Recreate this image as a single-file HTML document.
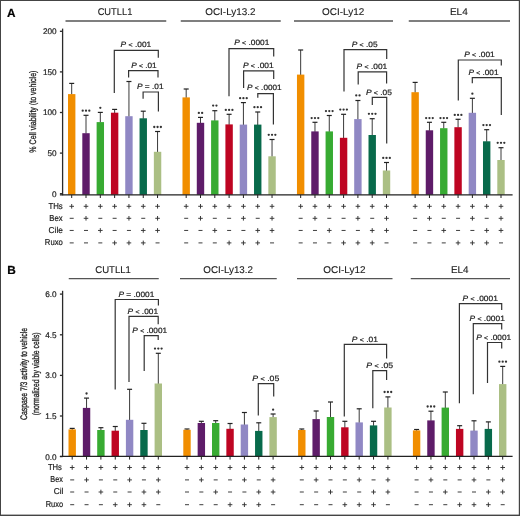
<!DOCTYPE html>
<html><head><meta charset="utf-8"><style>
html,body{margin:0;padding:0;background:#fff;}
svg{display:block;}
#w{width:520px;height:516px;overflow:hidden;will-change:transform;}
text{font-family:"Liberation Sans",sans-serif;fill:#1a1a1a;text-rendering:geometricPrecision;}
.ax{stroke:#2a2a2a;stroke-width:1.3;}
.ul{stroke:#555;stroke-width:1.3;}
.tk{stroke:#222;stroke-width:1;}
.bl{stroke:#222;stroke-width:1.15;}
.eb{stroke:#3a3a3a;stroke-width:1;}
.ec{stroke:#222;stroke-width:1.2;}
.br{stroke:#333;stroke-width:1.2;fill:none;}
.sg{stroke:#333;stroke-width:0.95;fill:none;}
.tl{font-size:8.2px;stroke:#222;stroke-width:0.2px;}
.tt{stroke:#222;stroke-width:0.12px;}
.pt{stroke:#222;stroke-width:0.2px;}
.rl{stroke:#222;stroke-width:0.2px;}
.pl{font-size:11.8px;font-weight:bold;stroke:#000;stroke-width:0.2px;fill:#000;}
.yl{stroke:#222;stroke-width:0.3px;}
</style></head><body>
<div id="w"><svg width="520" height="516" viewBox="0 0 520 516">
<rect x="0" y="0" width="520" height="516" fill="#fff"/>
<line x1="59.9" y1="31.3" x2="62.7" y2="31.3" class="ax"/>
<text x="56.6" y="34.2" class="tl" text-anchor="end">200</text>
<line x1="59.9" y1="71.9" x2="62.7" y2="71.9" class="ax"/>
<text x="56.6" y="74.8" class="tl" text-anchor="end">150</text>
<line x1="59.9" y1="112.5" x2="62.7" y2="112.5" class="ax"/>
<text x="56.6" y="115.4" class="tl" text-anchor="end">100</text>
<line x1="59.9" y1="153.1" x2="62.7" y2="153.1" class="ax"/>
<text x="56.6" y="156" class="tl" text-anchor="end">50</text>
<line x1="59.9" y1="193.7" x2="62.7" y2="193.7" class="ax"/>
<text x="56.6" y="196.6" class="tl" text-anchor="end">0</text>
<text x="97.63" y="15.3" class="tt" font-size="9.8" textLength="34.71" lengthAdjust="spacingAndGlyphs">CUTLL1</text>
<line x1="65.5" y1="21" x2="166.25" y2="21" class="ul"/>
<text x="205.29" y="15.3" class="tt" font-size="9.8" textLength="50.21" lengthAdjust="spacingAndGlyphs">OCI-Ly13.2</text>
<line x1="180.75" y1="21" x2="280.75" y2="21" class="ul"/>
<text x="322.03" y="15.3" class="tt" font-size="9.8" textLength="42.22" lengthAdjust="spacingAndGlyphs">OCI-Ly12</text>
<line x1="294" y1="21" x2="393" y2="21" class="ul"/>
<text x="449.93" y="15.3" class="tt" font-size="9.8" textLength="17.87" lengthAdjust="spacingAndGlyphs">EL4</text>
<line x1="408.75" y1="21" x2="510" y2="21" class="ul"/>
<line x1="71.7" y1="83.4" x2="71.7" y2="94.6" class="eb"/>
<line x1="69.2" y1="83.4" x2="74.2" y2="83.4" class="ec"/>
<rect x="68" y="94.1" width="7.4" height="100.7" fill="#F18E00"/>
<line x1="71.7" y1="194.8" x2="71.7" y2="198" class="tk"/>
<path d="M69.4 206.3H74M71.7 204V208.6" class="sg"/>
<path d="M69.7 218.3H73.7" class="sg"/>
<path d="M69.7 230.45H73.7" class="sg"/>
<path d="M69.7 242.9H73.7" class="sg"/>
<line x1="86.01" y1="115.3" x2="86.01" y2="133.7" class="eb"/>
<line x1="83.51" y1="115.3" x2="88.51" y2="115.3" class="ec"/>
<rect x="82.31" y="133.2" width="7.4" height="61.6" fill="#5E1C69"/>
<line x1="86.01" y1="194.8" x2="86.01" y2="198" class="tk"/>
<circle cx="82.71" cy="110.7" r="1.15" fill="#333"/>
<circle cx="86.01" cy="110.7" r="1.15" fill="#333"/>
<circle cx="89.31" cy="110.7" r="1.15" fill="#333"/>
<path d="M83.71 206.3H88.31M86.01 204V208.6" class="sg"/>
<path d="M83.71 218.3H88.31M86.01 216V220.6" class="sg"/>
<path d="M84.01 230.45H88.01" class="sg"/>
<path d="M84.01 242.9H88.01" class="sg"/>
<line x1="100.32" y1="112.4" x2="100.32" y2="122.6" class="eb"/>
<line x1="97.82" y1="112.4" x2="102.82" y2="112.4" class="ec"/>
<rect x="96.62" y="122.1" width="7.4" height="72.7" fill="#38AB32"/>
<line x1="100.32" y1="194.8" x2="100.32" y2="198" class="tk"/>
<circle cx="100.32" cy="107.8" r="1.15" fill="#333"/>
<path d="M98.02 206.3H102.62M100.32 204V208.6" class="sg"/>
<path d="M98.32 218.3H102.32" class="sg"/>
<path d="M98.02 230.45H102.62M100.32 228.15V232.75" class="sg"/>
<path d="M98.32 242.9H102.32" class="sg"/>
<line x1="114.63" y1="109.4" x2="114.63" y2="113.2" class="eb"/>
<line x1="112.13" y1="109.4" x2="117.13" y2="109.4" class="ec"/>
<rect x="110.93" y="112.7" width="7.4" height="82.1" fill="#BE0522"/>
<line x1="114.63" y1="194.8" x2="114.63" y2="198" class="tk"/>
<path d="M112.33 206.3H116.93M114.63 204V208.6" class="sg"/>
<path d="M112.63 218.3H116.63" class="sg"/>
<path d="M112.63 230.45H116.63" class="sg"/>
<path d="M112.33 242.9H116.93M114.63 240.6V245.2" class="sg"/>
<line x1="128.94" y1="81.5" x2="128.94" y2="116.7" class="eb"/>
<line x1="126.44" y1="81.5" x2="131.44" y2="81.5" class="ec"/>
<rect x="125.24" y="116.2" width="7.4" height="78.6" fill="#9088C4"/>
<line x1="128.94" y1="194.8" x2="128.94" y2="198" class="tk"/>
<path d="M126.64 206.3H131.24M128.94 204V208.6" class="sg"/>
<path d="M126.64 218.3H131.24M128.94 216V220.6" class="sg"/>
<path d="M126.94 230.45H130.94" class="sg"/>
<path d="M126.64 242.9H131.24M128.94 240.6V245.2" class="sg"/>
<line x1="143.25" y1="111.2" x2="143.25" y2="118.8" class="eb"/>
<line x1="140.75" y1="111.2" x2="145.75" y2="111.2" class="ec"/>
<rect x="139.55" y="118.3" width="7.4" height="76.5" fill="#086A4B"/>
<line x1="143.25" y1="194.8" x2="143.25" y2="198" class="tk"/>
<path d="M140.95 206.3H145.55M143.25 204V208.6" class="sg"/>
<path d="M141.25 218.3H145.25" class="sg"/>
<path d="M140.95 230.45H145.55M143.25 228.15V232.75" class="sg"/>
<path d="M140.95 242.9H145.55M143.25 240.6V245.2" class="sg"/>
<line x1="157.56" y1="131.5" x2="157.56" y2="152.3" class="eb"/>
<line x1="155.06" y1="131.5" x2="160.06" y2="131.5" class="ec"/>
<rect x="153.86" y="151.8" width="7.4" height="43" fill="#ABBF84"/>
<line x1="157.56" y1="194.8" x2="157.56" y2="198" class="tk"/>
<circle cx="154.26" cy="127" r="1.15" fill="#333"/>
<circle cx="157.56" cy="127" r="1.15" fill="#333"/>
<circle cx="160.86" cy="127" r="1.15" fill="#333"/>
<path d="M155.26 206.3H159.86M157.56 204V208.6" class="sg"/>
<path d="M155.26 218.3H159.86M157.56 216V220.6" class="sg"/>
<path d="M155.26 230.45H159.86M157.56 228.15V232.75" class="sg"/>
<path d="M155.56 242.9H159.56" class="sg"/>
<path d="M114.3 93V50.4H158.3V57.8" class="br"/>
<text x="120.63" y="47.1" class="pt" font-size="7.7" textLength="30.67" lengthAdjust="spacingAndGlyphs"><tspan font-style="italic">P</tspan> <tspan font-size="6.4">&lt;</tspan> .001</text>
<path d="M128.6 77.5V70.7H158V77.5" class="br"/>
<text x="131.24" y="67.6" class="pt" font-size="7.7" textLength="25.44" lengthAdjust="spacingAndGlyphs"><tspan font-style="italic">P</tspan> <tspan font-size="6.4">&lt;</tspan> .01</text>
<path d="M143.1 98.7V92H158.4V111.6" class="br"/>
<text x="137.02" y="88.6" class="pt" font-size="7.7" textLength="26.48" lengthAdjust="spacingAndGlyphs"><tspan font-style="italic">P</tspan> = .01</text>
<line x1="186.18" y1="89" x2="186.18" y2="97.9" class="eb"/>
<line x1="183.68" y1="89" x2="188.68" y2="89" class="ec"/>
<rect x="182.48" y="97.4" width="7.4" height="97.4" fill="#F18E00"/>
<line x1="186.18" y1="194.8" x2="186.18" y2="198" class="tk"/>
<path d="M183.88 206.3H188.48M186.18 204V208.6" class="sg"/>
<path d="M184.18 218.3H188.18" class="sg"/>
<path d="M184.18 230.45H188.18" class="sg"/>
<path d="M184.18 242.9H188.18" class="sg"/>
<line x1="200.49" y1="117.4" x2="200.49" y2="123.3" class="eb"/>
<line x1="197.99" y1="117.4" x2="202.99" y2="117.4" class="ec"/>
<rect x="196.79" y="122.8" width="7.4" height="72" fill="#5E1C69"/>
<line x1="200.49" y1="194.8" x2="200.49" y2="198" class="tk"/>
<circle cx="198.84" cy="112.9" r="1.15" fill="#333"/>
<circle cx="202.14" cy="112.9" r="1.15" fill="#333"/>
<path d="M198.19 206.3H202.79M200.49 204V208.6" class="sg"/>
<path d="M198.19 218.3H202.79M200.49 216V220.6" class="sg"/>
<path d="M198.49 230.45H202.49" class="sg"/>
<path d="M198.49 242.9H202.49" class="sg"/>
<line x1="214.8" y1="110.7" x2="214.8" y2="120.9" class="eb"/>
<line x1="212.3" y1="110.7" x2="217.3" y2="110.7" class="ec"/>
<rect x="211.1" y="120.4" width="7.4" height="74.4" fill="#38AB32"/>
<line x1="214.8" y1="194.8" x2="214.8" y2="198" class="tk"/>
<circle cx="213.15" cy="105.6" r="1.15" fill="#333"/>
<circle cx="216.45" cy="105.6" r="1.15" fill="#333"/>
<path d="M212.5 206.3H217.1M214.8 204V208.6" class="sg"/>
<path d="M212.8 218.3H216.8" class="sg"/>
<path d="M212.5 230.45H217.1M214.8 228.15V232.75" class="sg"/>
<path d="M212.8 242.9H216.8" class="sg"/>
<line x1="229.11" y1="114.3" x2="229.11" y2="124.9" class="eb"/>
<line x1="226.61" y1="114.3" x2="231.61" y2="114.3" class="ec"/>
<rect x="225.41" y="124.4" width="7.4" height="70.4" fill="#BE0522"/>
<line x1="229.11" y1="194.8" x2="229.11" y2="198" class="tk"/>
<circle cx="225.81" cy="109.9" r="1.15" fill="#333"/>
<circle cx="229.11" cy="109.9" r="1.15" fill="#333"/>
<circle cx="232.41" cy="109.9" r="1.15" fill="#333"/>
<path d="M226.81 206.3H231.41M229.11 204V208.6" class="sg"/>
<path d="M227.11 218.3H231.11" class="sg"/>
<path d="M227.11 230.45H231.11" class="sg"/>
<path d="M226.81 242.9H231.41M229.11 240.6V245.2" class="sg"/>
<line x1="243.42" y1="102.6" x2="243.42" y2="125.1" class="eb"/>
<line x1="240.92" y1="102.6" x2="245.92" y2="102.6" class="ec"/>
<rect x="239.72" y="124.6" width="7.4" height="70.2" fill="#9088C4"/>
<line x1="243.42" y1="194.8" x2="243.42" y2="198" class="tk"/>
<circle cx="240.12" cy="98.2" r="1.15" fill="#333"/>
<circle cx="243.42" cy="98.2" r="1.15" fill="#333"/>
<circle cx="246.72" cy="98.2" r="1.15" fill="#333"/>
<path d="M241.12 206.3H245.72M243.42 204V208.6" class="sg"/>
<path d="M241.12 218.3H245.72M243.42 216V220.6" class="sg"/>
<path d="M241.42 230.45H245.42" class="sg"/>
<path d="M241.12 242.9H245.72M243.42 240.6V245.2" class="sg"/>
<line x1="257.73" y1="112" x2="257.73" y2="125.1" class="eb"/>
<line x1="255.23" y1="112" x2="260.23" y2="112" class="ec"/>
<rect x="254.03" y="124.6" width="7.4" height="70.2" fill="#086A4B"/>
<line x1="257.73" y1="194.8" x2="257.73" y2="198" class="tk"/>
<circle cx="254.43" cy="107.2" r="1.15" fill="#333"/>
<circle cx="257.73" cy="107.2" r="1.15" fill="#333"/>
<circle cx="261.03" cy="107.2" r="1.15" fill="#333"/>
<path d="M255.43 206.3H260.03M257.73 204V208.6" class="sg"/>
<path d="M255.73 218.3H259.73" class="sg"/>
<path d="M255.43 230.45H260.03M257.73 228.15V232.75" class="sg"/>
<path d="M255.43 242.9H260.03M257.73 240.6V245.2" class="sg"/>
<line x1="272.04" y1="139.5" x2="272.04" y2="156.8" class="eb"/>
<line x1="269.54" y1="139.5" x2="274.54" y2="139.5" class="ec"/>
<rect x="268.34" y="156.3" width="7.4" height="38.5" fill="#ABBF84"/>
<line x1="272.04" y1="194.8" x2="272.04" y2="198" class="tk"/>
<circle cx="268.74" cy="134.8" r="1.15" fill="#333"/>
<circle cx="272.04" cy="134.8" r="1.15" fill="#333"/>
<circle cx="275.34" cy="134.8" r="1.15" fill="#333"/>
<path d="M269.74 206.3H274.34M272.04 204V208.6" class="sg"/>
<path d="M269.74 218.3H274.34M272.04 216V220.6" class="sg"/>
<path d="M269.74 230.45H274.34M272.04 228.15V232.75" class="sg"/>
<path d="M270.04 242.9H274.04" class="sg"/>
<path d="M229 96.2V48.6H273.7V56.6" class="br"/>
<text x="234.23" y="45.4" class="pt" font-size="7.7" textLength="35.06" lengthAdjust="spacingAndGlyphs"><tspan font-style="italic">P</tspan> <tspan font-size="6.4">&lt;</tspan> .0001</text>
<path d="M243.6 88V70.8H273.7V78.9" class="br"/>
<text x="242.92" y="67.7" class="pt" font-size="7.7" textLength="30.77" lengthAdjust="spacingAndGlyphs"><tspan font-style="italic">P</tspan> <tspan font-size="6.4">&lt;</tspan> .001</text>
<path d="M257.8 97.8V93.6H273.4V124.4" class="br"/>
<text x="247.14" y="90.3" class="pt" font-size="7.7" textLength="34.44" lengthAdjust="spacingAndGlyphs"><tspan font-style="italic">P</tspan> <tspan font-size="6.4">&lt;</tspan> .0001</text>
<line x1="300.66" y1="50" x2="300.66" y2="75.1" class="eb"/>
<line x1="298.16" y1="50" x2="303.16" y2="50" class="ec"/>
<rect x="296.96" y="74.6" width="7.4" height="120.2" fill="#F18E00"/>
<line x1="300.66" y1="194.8" x2="300.66" y2="198" class="tk"/>
<path d="M298.36 206.3H302.96M300.66 204V208.6" class="sg"/>
<path d="M298.66 218.3H302.66" class="sg"/>
<path d="M298.66 230.45H302.66" class="sg"/>
<path d="M298.66 242.9H302.66" class="sg"/>
<line x1="314.97" y1="122.3" x2="314.97" y2="131.9" class="eb"/>
<line x1="312.47" y1="122.3" x2="317.47" y2="122.3" class="ec"/>
<rect x="311.27" y="131.4" width="7.4" height="63.4" fill="#5E1C69"/>
<line x1="314.97" y1="194.8" x2="314.97" y2="198" class="tk"/>
<circle cx="311.67" cy="118.1" r="1.15" fill="#333"/>
<circle cx="314.97" cy="118.1" r="1.15" fill="#333"/>
<circle cx="318.27" cy="118.1" r="1.15" fill="#333"/>
<path d="M312.67 206.3H317.27M314.97 204V208.6" class="sg"/>
<path d="M312.67 218.3H317.27M314.97 216V220.6" class="sg"/>
<path d="M312.97 230.45H316.97" class="sg"/>
<path d="M312.97 242.9H316.97" class="sg"/>
<line x1="329.28" y1="115.5" x2="329.28" y2="131.9" class="eb"/>
<line x1="326.78" y1="115.5" x2="331.78" y2="115.5" class="ec"/>
<rect x="325.58" y="131.4" width="7.4" height="63.4" fill="#38AB32"/>
<line x1="329.28" y1="194.8" x2="329.28" y2="198" class="tk"/>
<circle cx="325.98" cy="111.1" r="1.15" fill="#333"/>
<circle cx="329.28" cy="111.1" r="1.15" fill="#333"/>
<circle cx="332.58" cy="111.1" r="1.15" fill="#333"/>
<path d="M326.98 206.3H331.58M329.28 204V208.6" class="sg"/>
<path d="M327.28 218.3H331.28" class="sg"/>
<path d="M326.98 230.45H331.58M329.28 228.15V232.75" class="sg"/>
<path d="M327.28 242.9H331.28" class="sg"/>
<line x1="343.59" y1="114.3" x2="343.59" y2="138.3" class="eb"/>
<line x1="341.09" y1="114.3" x2="346.09" y2="114.3" class="ec"/>
<rect x="339.89" y="137.8" width="7.4" height="57" fill="#BE0522"/>
<line x1="343.59" y1="194.8" x2="343.59" y2="198" class="tk"/>
<circle cx="340.29" cy="109.6" r="1.15" fill="#333"/>
<circle cx="343.59" cy="109.6" r="1.15" fill="#333"/>
<circle cx="346.89" cy="109.6" r="1.15" fill="#333"/>
<path d="M341.29 206.3H345.89M343.59 204V208.6" class="sg"/>
<path d="M341.59 218.3H345.59" class="sg"/>
<path d="M341.59 230.45H345.59" class="sg"/>
<path d="M341.29 242.9H345.89M343.59 240.6V245.2" class="sg"/>
<line x1="357.9" y1="100.5" x2="357.9" y2="119.6" class="eb"/>
<line x1="355.4" y1="100.5" x2="360.4" y2="100.5" class="ec"/>
<rect x="354.2" y="119.1" width="7.4" height="75.7" fill="#9088C4"/>
<line x1="357.9" y1="194.8" x2="357.9" y2="198" class="tk"/>
<circle cx="356.25" cy="95.4" r="1.15" fill="#333"/>
<circle cx="359.55" cy="95.4" r="1.15" fill="#333"/>
<path d="M355.6 206.3H360.2M357.9 204V208.6" class="sg"/>
<path d="M355.6 218.3H360.2M357.9 216V220.6" class="sg"/>
<path d="M355.9 230.45H359.9" class="sg"/>
<path d="M355.6 242.9H360.2M357.9 240.6V245.2" class="sg"/>
<line x1="372.21" y1="118.7" x2="372.21" y2="135.5" class="eb"/>
<line x1="369.71" y1="118.7" x2="374.71" y2="118.7" class="ec"/>
<rect x="368.51" y="135" width="7.4" height="59.8" fill="#086A4B"/>
<line x1="372.21" y1="194.8" x2="372.21" y2="198" class="tk"/>
<circle cx="368.91" cy="113.8" r="1.15" fill="#333"/>
<circle cx="372.21" cy="113.8" r="1.15" fill="#333"/>
<circle cx="375.51" cy="113.8" r="1.15" fill="#333"/>
<path d="M369.91 206.3H374.51M372.21 204V208.6" class="sg"/>
<path d="M370.21 218.3H374.21" class="sg"/>
<path d="M369.91 230.45H374.51M372.21 228.15V232.75" class="sg"/>
<path d="M369.91 242.9H374.51M372.21 240.6V245.2" class="sg"/>
<line x1="386.52" y1="162.5" x2="386.52" y2="171" class="eb"/>
<line x1="384.02" y1="162.5" x2="389.02" y2="162.5" class="ec"/>
<rect x="382.82" y="170.5" width="7.4" height="24.3" fill="#ABBF84"/>
<line x1="386.52" y1="194.8" x2="386.52" y2="198" class="tk"/>
<circle cx="383.22" cy="157.9" r="1.15" fill="#333"/>
<circle cx="386.52" cy="157.9" r="1.15" fill="#333"/>
<circle cx="389.82" cy="157.9" r="1.15" fill="#333"/>
<path d="M384.22 206.3H388.82M386.52 204V208.6" class="sg"/>
<path d="M384.22 218.3H388.82M386.52 216V220.6" class="sg"/>
<path d="M384.22 230.45H388.82M386.52 228.15V232.75" class="sg"/>
<path d="M384.52 242.9H388.52" class="sg"/>
<path d="M344 91.6V49.6H386.7V59.1" class="br"/>
<text x="351.73" y="46.7" class="pt" font-size="7.7" textLength="25.8" lengthAdjust="spacingAndGlyphs"><tspan font-style="italic">P</tspan> <tspan font-size="6.4">&lt;</tspan> .05</text>
<path d="M358.2 84.5V71.8H386.6V83.5" class="br"/>
<text x="356.63" y="68.5" class="pt" font-size="7.7" textLength="30.67" lengthAdjust="spacingAndGlyphs"><tspan font-style="italic">P</tspan> <tspan font-size="6.4">&lt;</tspan> .001</text>
<path d="M372.3 105V97.3H386.7V143.5" class="br"/>
<text x="365.93" y="94.8" class="pt" font-size="7.7" textLength="25.9" lengthAdjust="spacingAndGlyphs"><tspan font-style="italic">P</tspan> <tspan font-size="6.4">&lt;</tspan> .05</text>
<line x1="415.14" y1="82.4" x2="415.14" y2="92.7" class="eb"/>
<line x1="412.64" y1="82.4" x2="417.64" y2="82.4" class="ec"/>
<rect x="411.44" y="92.2" width="7.4" height="102.6" fill="#F18E00"/>
<line x1="415.14" y1="194.8" x2="415.14" y2="198" class="tk"/>
<path d="M412.84 206.3H417.44M415.14 204V208.6" class="sg"/>
<path d="M413.14 218.3H417.14" class="sg"/>
<path d="M413.14 230.45H417.14" class="sg"/>
<path d="M413.14 242.9H417.14" class="sg"/>
<line x1="429.45" y1="122.3" x2="429.45" y2="130.8" class="eb"/>
<line x1="426.95" y1="122.3" x2="431.95" y2="122.3" class="ec"/>
<rect x="425.75" y="130.3" width="7.4" height="64.5" fill="#5E1C69"/>
<line x1="429.45" y1="194.8" x2="429.45" y2="198" class="tk"/>
<circle cx="426.15" cy="118.1" r="1.15" fill="#333"/>
<circle cx="429.45" cy="118.1" r="1.15" fill="#333"/>
<circle cx="432.75" cy="118.1" r="1.15" fill="#333"/>
<path d="M427.15 206.3H431.75M429.45 204V208.6" class="sg"/>
<path d="M427.15 218.3H431.75M429.45 216V220.6" class="sg"/>
<path d="M427.45 230.45H431.45" class="sg"/>
<path d="M427.45 242.9H431.45" class="sg"/>
<line x1="443.76" y1="122.3" x2="443.76" y2="128.7" class="eb"/>
<line x1="441.26" y1="122.3" x2="446.26" y2="122.3" class="ec"/>
<rect x="440.06" y="128.2" width="7.4" height="66.6" fill="#38AB32"/>
<line x1="443.76" y1="194.8" x2="443.76" y2="198" class="tk"/>
<circle cx="440.46" cy="118.1" r="1.15" fill="#333"/>
<circle cx="443.76" cy="118.1" r="1.15" fill="#333"/>
<circle cx="447.06" cy="118.1" r="1.15" fill="#333"/>
<path d="M441.46 206.3H446.06M443.76 204V208.6" class="sg"/>
<path d="M441.76 218.3H445.76" class="sg"/>
<path d="M441.46 230.45H446.06M443.76 228.15V232.75" class="sg"/>
<path d="M441.76 242.9H445.76" class="sg"/>
<line x1="458.07" y1="119.3" x2="458.07" y2="127.7" class="eb"/>
<line x1="455.57" y1="119.3" x2="460.57" y2="119.3" class="ec"/>
<rect x="454.37" y="127.2" width="7.4" height="67.6" fill="#BE0522"/>
<line x1="458.07" y1="194.8" x2="458.07" y2="198" class="tk"/>
<circle cx="454.77" cy="114.9" r="1.15" fill="#333"/>
<circle cx="458.07" cy="114.9" r="1.15" fill="#333"/>
<circle cx="461.37" cy="114.9" r="1.15" fill="#333"/>
<path d="M455.77 206.3H460.37M458.07 204V208.6" class="sg"/>
<path d="M456.07 218.3H460.07" class="sg"/>
<path d="M456.07 230.45H460.07" class="sg"/>
<path d="M455.77 242.9H460.37M458.07 240.6V245.2" class="sg"/>
<line x1="472.38" y1="98.3" x2="472.38" y2="113.3" class="eb"/>
<line x1="469.88" y1="98.3" x2="474.88" y2="98.3" class="ec"/>
<rect x="468.68" y="112.8" width="7.4" height="82" fill="#9088C4"/>
<line x1="472.38" y1="194.8" x2="472.38" y2="198" class="tk"/>
<circle cx="472.38" cy="93.7" r="1.15" fill="#333"/>
<path d="M470.08 206.3H474.68M472.38 204V208.6" class="sg"/>
<path d="M470.08 218.3H474.68M472.38 216V220.6" class="sg"/>
<path d="M470.38 230.45H474.38" class="sg"/>
<path d="M470.08 242.9H474.68M472.38 240.6V245.2" class="sg"/>
<line x1="486.69" y1="129.7" x2="486.69" y2="141.8" class="eb"/>
<line x1="484.19" y1="129.7" x2="489.19" y2="129.7" class="ec"/>
<rect x="482.99" y="141.3" width="7.4" height="53.5" fill="#086A4B"/>
<line x1="486.69" y1="194.8" x2="486.69" y2="198" class="tk"/>
<circle cx="483.39" cy="125.1" r="1.15" fill="#333"/>
<circle cx="486.69" cy="125.1" r="1.15" fill="#333"/>
<circle cx="489.99" cy="125.1" r="1.15" fill="#333"/>
<path d="M484.39 206.3H488.99M486.69 204V208.6" class="sg"/>
<path d="M484.69 218.3H488.69" class="sg"/>
<path d="M484.39 230.45H488.99M486.69 228.15V232.75" class="sg"/>
<path d="M484.39 242.9H488.99M486.69 240.6V245.2" class="sg"/>
<line x1="501" y1="147.7" x2="501" y2="160.5" class="eb"/>
<line x1="498.5" y1="147.7" x2="503.5" y2="147.7" class="ec"/>
<rect x="497.3" y="160" width="7.4" height="34.8" fill="#ABBF84"/>
<line x1="501" y1="194.8" x2="501" y2="198" class="tk"/>
<circle cx="497.7" cy="142.8" r="1.15" fill="#333"/>
<circle cx="501" cy="142.8" r="1.15" fill="#333"/>
<circle cx="504.3" cy="142.8" r="1.15" fill="#333"/>
<path d="M498.7 206.3H503.3M501 204V208.6" class="sg"/>
<path d="M498.7 218.3H503.3M501 216V220.6" class="sg"/>
<path d="M498.7 230.45H503.3M501 228.15V232.75" class="sg"/>
<path d="M499 242.9H503" class="sg"/>
<path d="M458.3 100.5V60H501.3V65.5" class="br"/>
<text x="464.23" y="56.7" class="pt" font-size="7.7" textLength="30.46" lengthAdjust="spacingAndGlyphs"><tspan font-style="italic">P</tspan> <tspan font-size="6.4">&lt;</tspan> .001</text>
<path d="M472.3 83.3V77.6H501.3V114.9" class="br"/>
<text x="468.44" y="74.7" class="pt" font-size="7.7" textLength="30.04" lengthAdjust="spacingAndGlyphs"><tspan font-style="italic">P</tspan> <tspan font-size="6.4">&lt;</tspan> .001</text>
<line x1="62.6" y1="28.6" x2="62.6" y2="195.3" class="ax"/>
<line x1="59.9" y1="194.8" x2="512.6" y2="194.8" class="bl"/>
<text x="48.43" y="208.55" class="rl" font-size="8.6" textLength="14.35" lengthAdjust="spacingAndGlyphs">THs</text>
<text x="49.27" y="220.55" class="rl" font-size="8.6" textLength="13.31" lengthAdjust="spacingAndGlyphs">Bex</text>
<text x="48.59" y="232.7" class="rl" font-size="8.6" textLength="14.28" lengthAdjust="spacingAndGlyphs">Cile</text>
<text x="44.87" y="245.15" class="rl" font-size="8.6" textLength="17.95" lengthAdjust="spacingAndGlyphs">Ruxo</text>
<line x1="59.9" y1="294.1" x2="62.7" y2="294.1" class="ax"/>
<text x="56.6" y="297" class="tl" text-anchor="end">6.0</text>
<line x1="59.9" y1="334.8" x2="62.7" y2="334.8" class="ax"/>
<text x="56.6" y="337.7" class="tl" text-anchor="end">4.5</text>
<line x1="59.9" y1="375.4" x2="62.7" y2="375.4" class="ax"/>
<text x="56.6" y="378.3" class="tl" text-anchor="end">3.0</text>
<line x1="59.9" y1="416" x2="62.7" y2="416" class="ax"/>
<text x="56.6" y="418.9" class="tl" text-anchor="end">1.5</text>
<line x1="59.9" y1="456.6" x2="62.7" y2="456.6" class="ax"/>
<text x="56.6" y="459.5" class="tl" text-anchor="end">0.0</text>
<text x="95.27" y="273" class="tt" font-size="9.8" textLength="35.69" lengthAdjust="spacingAndGlyphs">CUTLL1</text>
<line x1="68.75" y1="278.6" x2="158.75" y2="278.6" class="ul"/>
<text x="203.29" y="273" class="tt" font-size="9.8" textLength="49.7" lengthAdjust="spacingAndGlyphs">OCI-Ly13.2</text>
<line x1="180" y1="278.6" x2="276.75" y2="278.6" class="ul"/>
<text x="323.28" y="273" class="tt" font-size="9.8" textLength="42.22" lengthAdjust="spacingAndGlyphs">OCI-Ly12</text>
<line x1="297" y1="278.6" x2="392.5" y2="278.6" class="ul"/>
<text x="450.94" y="273" class="tt" font-size="9.8" textLength="17.6" lengthAdjust="spacingAndGlyphs">EL4</text>
<line x1="410.75" y1="278.6" x2="510" y2="278.6" class="ul"/>
<line x1="72.2" y1="428.4" x2="72.2" y2="429.9" class="eb"/>
<line x1="69.7" y1="428.4" x2="74.7" y2="428.4" class="ec"/>
<rect x="68.5" y="429.4" width="7.4" height="27" fill="#F18E00"/>
<line x1="72.2" y1="456.4" x2="72.2" y2="459.6" class="tk"/>
<path d="M69.9 467.5H74.5M72.2 465.2V469.8" class="sg"/>
<path d="M70.2 479.9H74.2" class="sg"/>
<path d="M70.2 492H74.2" class="sg"/>
<path d="M70.2 504.7H74.2" class="sg"/>
<line x1="86.55" y1="398.1" x2="86.55" y2="408.4" class="eb"/>
<line x1="84.05" y1="398.1" x2="89.05" y2="398.1" class="ec"/>
<rect x="82.85" y="407.9" width="7.4" height="48.5" fill="#5E1C69"/>
<line x1="86.55" y1="456.4" x2="86.55" y2="459.6" class="tk"/>
<circle cx="86.55" cy="393.5" r="1.15" fill="#333"/>
<path d="M84.25 467.5H88.85M86.55 465.2V469.8" class="sg"/>
<path d="M84.25 479.9H88.85M86.55 477.6V482.2" class="sg"/>
<path d="M84.55 492H88.55" class="sg"/>
<path d="M84.55 504.7H88.55" class="sg"/>
<line x1="100.9" y1="427.7" x2="100.9" y2="430.5" class="eb"/>
<line x1="98.4" y1="427.7" x2="103.4" y2="427.7" class="ec"/>
<rect x="97.2" y="430" width="7.4" height="26.4" fill="#38AB32"/>
<line x1="100.9" y1="456.4" x2="100.9" y2="459.6" class="tk"/>
<path d="M98.6 467.5H103.2M100.9 465.2V469.8" class="sg"/>
<path d="M98.9 479.9H102.9" class="sg"/>
<path d="M98.6 492H103.2M100.9 489.7V494.3" class="sg"/>
<path d="M98.9 504.7H102.9" class="sg"/>
<line x1="115.25" y1="426.5" x2="115.25" y2="431.2" class="eb"/>
<line x1="112.75" y1="426.5" x2="117.75" y2="426.5" class="ec"/>
<rect x="111.55" y="430.7" width="7.4" height="25.7" fill="#BE0522"/>
<line x1="115.25" y1="456.4" x2="115.25" y2="459.6" class="tk"/>
<path d="M112.95 467.5H117.55M115.25 465.2V469.8" class="sg"/>
<path d="M113.25 479.9H117.25" class="sg"/>
<path d="M113.25 492H117.25" class="sg"/>
<path d="M112.95 504.7H117.55M115.25 502.4V507" class="sg"/>
<line x1="129.6" y1="389.3" x2="129.6" y2="420.3" class="eb"/>
<line x1="127.1" y1="389.3" x2="132.1" y2="389.3" class="ec"/>
<rect x="125.9" y="419.8" width="7.4" height="36.6" fill="#9088C4"/>
<line x1="129.6" y1="456.4" x2="129.6" y2="459.6" class="tk"/>
<path d="M127.3 467.5H131.9M129.6 465.2V469.8" class="sg"/>
<path d="M127.3 479.9H131.9M129.6 477.6V482.2" class="sg"/>
<path d="M127.6 492H131.6" class="sg"/>
<path d="M127.3 504.7H131.9M129.6 502.4V507" class="sg"/>
<line x1="143.95" y1="423.3" x2="143.95" y2="430.5" class="eb"/>
<line x1="141.45" y1="423.3" x2="146.45" y2="423.3" class="ec"/>
<rect x="140.25" y="430" width="7.4" height="26.4" fill="#086A4B"/>
<line x1="143.95" y1="456.4" x2="143.95" y2="459.6" class="tk"/>
<path d="M141.65 467.5H146.25M143.95 465.2V469.8" class="sg"/>
<path d="M141.95 479.9H145.95" class="sg"/>
<path d="M141.65 492H146.25M143.95 489.7V494.3" class="sg"/>
<path d="M141.65 504.7H146.25M143.95 502.4V507" class="sg"/>
<line x1="158.3" y1="353.3" x2="158.3" y2="384" class="eb"/>
<line x1="155.8" y1="353.3" x2="160.8" y2="353.3" class="ec"/>
<rect x="154.6" y="383.5" width="7.4" height="72.9" fill="#ABBF84"/>
<line x1="158.3" y1="456.4" x2="158.3" y2="459.6" class="tk"/>
<circle cx="155" cy="348.6" r="1.15" fill="#333"/>
<circle cx="158.3" cy="348.6" r="1.15" fill="#333"/>
<circle cx="161.6" cy="348.6" r="1.15" fill="#333"/>
<path d="M156 467.5H160.6M158.3 465.2V469.8" class="sg"/>
<path d="M156 479.9H160.6M158.3 477.6V482.2" class="sg"/>
<path d="M156 492H160.6M158.3 489.7V494.3" class="sg"/>
<path d="M156.3 504.7H160.3" class="sg"/>
<path d="M115.2 389.5V299.5H158.4V305.4" class="br"/>
<text x="118.52" y="296.6" class="pt" font-size="7.7" textLength="35.78" lengthAdjust="spacingAndGlyphs"><tspan font-style="italic">P</tspan> = .0001</text>
<path d="M129 381.9V316.4H158.2V324.2" class="br"/>
<text x="127.63" y="313.7" class="pt" font-size="7.7" textLength="30.46" lengthAdjust="spacingAndGlyphs"><tspan font-style="italic">P</tspan> <tspan font-size="6.4">&lt;</tspan> .001</text>
<path d="M144.2 370.9V335.6H158.2V340" class="br"/>
<text x="132.33" y="333.2" class="pt" font-size="7.7" textLength="34.86" lengthAdjust="spacingAndGlyphs"><tspan font-style="italic">P</tspan> <tspan font-size="6.4">&lt;</tspan> .0001</text>
<line x1="187" y1="429" x2="187" y2="430.3" class="eb"/>
<line x1="184.5" y1="429" x2="189.5" y2="429" class="ec"/>
<rect x="183.3" y="429.8" width="7.4" height="26.6" fill="#F18E00"/>
<line x1="187" y1="456.4" x2="187" y2="459.6" class="tk"/>
<path d="M184.7 467.5H189.3M187 465.2V469.8" class="sg"/>
<path d="M185 479.9H189" class="sg"/>
<path d="M185 492H189" class="sg"/>
<path d="M185 504.7H189" class="sg"/>
<line x1="201.35" y1="421.3" x2="201.35" y2="423.5" class="eb"/>
<line x1="198.85" y1="421.3" x2="203.85" y2="421.3" class="ec"/>
<rect x="197.65" y="423" width="7.4" height="33.4" fill="#5E1C69"/>
<line x1="201.35" y1="456.4" x2="201.35" y2="459.6" class="tk"/>
<path d="M199.05 467.5H203.65M201.35 465.2V469.8" class="sg"/>
<path d="M199.05 479.9H203.65M201.35 477.6V482.2" class="sg"/>
<path d="M199.35 492H203.35" class="sg"/>
<path d="M199.35 504.7H203.35" class="sg"/>
<line x1="215.7" y1="420.7" x2="215.7" y2="423.5" class="eb"/>
<line x1="213.2" y1="420.7" x2="218.2" y2="420.7" class="ec"/>
<rect x="212" y="423" width="7.4" height="33.4" fill="#38AB32"/>
<line x1="215.7" y1="456.4" x2="215.7" y2="459.6" class="tk"/>
<path d="M213.4 467.5H218M215.7 465.2V469.8" class="sg"/>
<path d="M213.7 479.9H217.7" class="sg"/>
<path d="M213.4 492H218M215.7 489.7V494.3" class="sg"/>
<path d="M213.7 504.7H217.7" class="sg"/>
<line x1="230.05" y1="423.5" x2="230.05" y2="429.3" class="eb"/>
<line x1="227.55" y1="423.5" x2="232.55" y2="423.5" class="ec"/>
<rect x="226.35" y="428.8" width="7.4" height="27.6" fill="#BE0522"/>
<line x1="230.05" y1="456.4" x2="230.05" y2="459.6" class="tk"/>
<path d="M227.75 467.5H232.35M230.05 465.2V469.8" class="sg"/>
<path d="M228.05 479.9H232.05" class="sg"/>
<path d="M228.05 492H232.05" class="sg"/>
<path d="M227.75 504.7H232.35M230.05 502.4V507" class="sg"/>
<line x1="244.4" y1="412.5" x2="244.4" y2="425" class="eb"/>
<line x1="241.9" y1="412.5" x2="246.9" y2="412.5" class="ec"/>
<rect x="240.7" y="424.5" width="7.4" height="31.9" fill="#9088C4"/>
<line x1="244.4" y1="456.4" x2="244.4" y2="459.6" class="tk"/>
<path d="M242.1 467.5H246.7M244.4 465.2V469.8" class="sg"/>
<path d="M242.1 479.9H246.7M244.4 477.6V482.2" class="sg"/>
<path d="M242.4 492H246.4" class="sg"/>
<path d="M242.1 504.7H246.7M244.4 502.4V507" class="sg"/>
<line x1="258.75" y1="422.8" x2="258.75" y2="431.4" class="eb"/>
<line x1="256.25" y1="422.8" x2="261.25" y2="422.8" class="ec"/>
<rect x="255.05" y="430.9" width="7.4" height="25.5" fill="#086A4B"/>
<line x1="258.75" y1="456.4" x2="258.75" y2="459.6" class="tk"/>
<path d="M256.45 467.5H261.05M258.75 465.2V469.8" class="sg"/>
<path d="M256.75 479.9H260.75" class="sg"/>
<path d="M256.45 492H261.05M258.75 489.7V494.3" class="sg"/>
<path d="M256.45 504.7H261.05M258.75 502.4V507" class="sg"/>
<line x1="273.1" y1="414" x2="273.1" y2="417.6" class="eb"/>
<line x1="270.6" y1="414" x2="275.6" y2="414" class="ec"/>
<rect x="269.4" y="417.1" width="7.4" height="39.3" fill="#ABBF84"/>
<line x1="273.1" y1="456.4" x2="273.1" y2="459.6" class="tk"/>
<circle cx="273.1" cy="409.7" r="1.15" fill="#333"/>
<path d="M270.8 467.5H275.4M273.1 465.2V469.8" class="sg"/>
<path d="M270.8 479.9H275.4M273.1 477.6V482.2" class="sg"/>
<path d="M270.8 492H275.4M273.1 489.7V494.3" class="sg"/>
<path d="M271.1 504.7H275.1" class="sg"/>
<path d="M258.3 415.4V383.7H273.7V396.4" class="br"/>
<text x="252.3" y="380.8" class="pt" font-size="7.7" textLength="27.04" lengthAdjust="spacingAndGlyphs"><tspan font-style="italic">P</tspan> <tspan font-size="6.4">&lt;</tspan> .05</text>
<line x1="301.8" y1="429" x2="301.8" y2="430.5" class="eb"/>
<line x1="299.3" y1="429" x2="304.3" y2="429" class="ec"/>
<rect x="298.1" y="430" width="7.4" height="26.4" fill="#F18E00"/>
<line x1="301.8" y1="456.4" x2="301.8" y2="459.6" class="tk"/>
<path d="M299.5 467.5H304.1M301.8 465.2V469.8" class="sg"/>
<path d="M299.8 479.9H303.8" class="sg"/>
<path d="M299.8 492H303.8" class="sg"/>
<path d="M299.8 504.7H303.8" class="sg"/>
<line x1="316.15" y1="411" x2="316.15" y2="419.6" class="eb"/>
<line x1="313.65" y1="411" x2="318.65" y2="411" class="ec"/>
<rect x="312.45" y="419.1" width="7.4" height="37.3" fill="#5E1C69"/>
<line x1="316.15" y1="456.4" x2="316.15" y2="459.6" class="tk"/>
<path d="M313.85 467.5H318.45M316.15 465.2V469.8" class="sg"/>
<path d="M313.85 479.9H318.45M316.15 477.6V482.2" class="sg"/>
<path d="M314.15 492H318.15" class="sg"/>
<path d="M314.15 504.7H318.15" class="sg"/>
<line x1="330.5" y1="402" x2="330.5" y2="417.5" class="eb"/>
<line x1="328" y1="402" x2="333" y2="402" class="ec"/>
<rect x="326.8" y="417" width="7.4" height="39.4" fill="#38AB32"/>
<line x1="330.5" y1="456.4" x2="330.5" y2="459.6" class="tk"/>
<path d="M328.2 467.5H332.8M330.5 465.2V469.8" class="sg"/>
<path d="M328.5 479.9H332.5" class="sg"/>
<path d="M328.2 492H332.8M330.5 489.7V494.3" class="sg"/>
<path d="M328.5 504.7H332.5" class="sg"/>
<line x1="344.85" y1="421.3" x2="344.85" y2="427.8" class="eb"/>
<line x1="342.35" y1="421.3" x2="347.35" y2="421.3" class="ec"/>
<rect x="341.15" y="427.3" width="7.4" height="29.1" fill="#BE0522"/>
<line x1="344.85" y1="456.4" x2="344.85" y2="459.6" class="tk"/>
<path d="M342.55 467.5H347.15M344.85 465.2V469.8" class="sg"/>
<path d="M342.85 479.9H346.85" class="sg"/>
<path d="M342.85 492H346.85" class="sg"/>
<path d="M342.55 504.7H347.15M344.85 502.4V507" class="sg"/>
<line x1="359.2" y1="408.8" x2="359.2" y2="422.9" class="eb"/>
<line x1="356.7" y1="408.8" x2="361.7" y2="408.8" class="ec"/>
<rect x="355.5" y="422.4" width="7.4" height="34" fill="#9088C4"/>
<line x1="359.2" y1="456.4" x2="359.2" y2="459.6" class="tk"/>
<path d="M356.9 467.5H361.5M359.2 465.2V469.8" class="sg"/>
<path d="M356.9 479.9H361.5M359.2 477.6V482.2" class="sg"/>
<path d="M357.2 492H361.2" class="sg"/>
<path d="M356.9 504.7H361.5M359.2 502.4V507" class="sg"/>
<line x1="373.55" y1="421.3" x2="373.55" y2="425.9" class="eb"/>
<line x1="371.05" y1="421.3" x2="376.05" y2="421.3" class="ec"/>
<rect x="369.85" y="425.4" width="7.4" height="31" fill="#086A4B"/>
<line x1="373.55" y1="456.4" x2="373.55" y2="459.6" class="tk"/>
<path d="M371.25 467.5H375.85M373.55 465.2V469.8" class="sg"/>
<path d="M371.55 479.9H375.55" class="sg"/>
<path d="M371.25 492H375.85M373.55 489.7V494.3" class="sg"/>
<path d="M371.25 504.7H375.85M373.55 502.4V507" class="sg"/>
<line x1="387.9" y1="396.9" x2="387.9" y2="408" class="eb"/>
<line x1="385.4" y1="396.9" x2="390.4" y2="396.9" class="ec"/>
<rect x="384.2" y="407.5" width="7.4" height="48.9" fill="#ABBF84"/>
<line x1="387.9" y1="456.4" x2="387.9" y2="459.6" class="tk"/>
<circle cx="384.6" cy="392" r="1.15" fill="#333"/>
<circle cx="387.9" cy="392" r="1.15" fill="#333"/>
<circle cx="391.2" cy="392" r="1.15" fill="#333"/>
<path d="M385.6 467.5H390.2M387.9 465.2V469.8" class="sg"/>
<path d="M385.6 479.9H390.2M387.9 477.6V482.2" class="sg"/>
<path d="M385.6 492H390.2M387.9 489.7V494.3" class="sg"/>
<path d="M385.9 504.7H389.9" class="sg"/>
<path d="M344.3 416.4V344.4H386.6V358.6" class="br"/>
<text x="351.83" y="341.5" class="pt" font-size="7.7" textLength="26.06" lengthAdjust="spacingAndGlyphs"><tspan font-style="italic">P</tspan> <tspan font-size="6.4">&lt;</tspan> .01</text>
<path d="M372.8 408.3V370.6H386.6V380" class="br"/>
<text x="366.21" y="367.8" class="pt" font-size="7.7" textLength="26.84" lengthAdjust="spacingAndGlyphs"><tspan font-style="italic">P</tspan> <tspan font-size="6.4">&lt;</tspan> .05</text>
<line x1="416.6" y1="429.5" x2="416.6" y2="430.9" class="eb"/>
<line x1="414.1" y1="429.5" x2="419.1" y2="429.5" class="ec"/>
<rect x="412.9" y="430.4" width="7.4" height="26" fill="#F18E00"/>
<line x1="416.6" y1="456.4" x2="416.6" y2="459.6" class="tk"/>
<path d="M414.3 467.5H418.9M416.6 465.2V469.8" class="sg"/>
<path d="M414.6 479.9H418.6" class="sg"/>
<path d="M414.6 492H418.6" class="sg"/>
<path d="M414.6 504.7H418.6" class="sg"/>
<line x1="430.95" y1="411.2" x2="430.95" y2="420.9" class="eb"/>
<line x1="428.45" y1="411.2" x2="433.45" y2="411.2" class="ec"/>
<rect x="427.25" y="420.4" width="7.4" height="36" fill="#5E1C69"/>
<line x1="430.95" y1="456.4" x2="430.95" y2="459.6" class="tk"/>
<circle cx="427.65" cy="406.5" r="1.15" fill="#333"/>
<circle cx="430.95" cy="406.5" r="1.15" fill="#333"/>
<circle cx="434.25" cy="406.5" r="1.15" fill="#333"/>
<path d="M428.65 467.5H433.25M430.95 465.2V469.8" class="sg"/>
<path d="M428.65 479.9H433.25M430.95 477.6V482.2" class="sg"/>
<path d="M428.95 492H432.95" class="sg"/>
<path d="M428.95 504.7H432.95" class="sg"/>
<line x1="445.3" y1="392" x2="445.3" y2="408.1" class="eb"/>
<line x1="442.8" y1="392" x2="447.8" y2="392" class="ec"/>
<rect x="441.6" y="407.6" width="7.4" height="48.8" fill="#38AB32"/>
<line x1="445.3" y1="456.4" x2="445.3" y2="459.6" class="tk"/>
<path d="M443 467.5H447.6M445.3 465.2V469.8" class="sg"/>
<path d="M443.3 479.9H447.3" class="sg"/>
<path d="M443 492H447.6M445.3 489.7V494.3" class="sg"/>
<path d="M443.3 504.7H447.3" class="sg"/>
<line x1="459.65" y1="425.7" x2="459.65" y2="429.4" class="eb"/>
<line x1="457.15" y1="425.7" x2="462.15" y2="425.7" class="ec"/>
<rect x="455.95" y="428.9" width="7.4" height="27.5" fill="#BE0522"/>
<line x1="459.65" y1="456.4" x2="459.65" y2="459.6" class="tk"/>
<path d="M457.35 467.5H461.95M459.65 465.2V469.8" class="sg"/>
<path d="M457.65 479.9H461.65" class="sg"/>
<path d="M457.65 492H461.65" class="sg"/>
<path d="M457.35 504.7H461.95M459.65 502.4V507" class="sg"/>
<line x1="474" y1="420.8" x2="474" y2="431.1" class="eb"/>
<line x1="471.5" y1="420.8" x2="476.5" y2="420.8" class="ec"/>
<rect x="470.3" y="430.6" width="7.4" height="25.8" fill="#9088C4"/>
<line x1="474" y1="456.4" x2="474" y2="459.6" class="tk"/>
<path d="M471.7 467.5H476.3M474 465.2V469.8" class="sg"/>
<path d="M471.7 479.9H476.3M474 477.6V482.2" class="sg"/>
<path d="M472 492H476" class="sg"/>
<path d="M471.7 504.7H476.3M474 502.4V507" class="sg"/>
<line x1="488.35" y1="421.9" x2="488.35" y2="429.4" class="eb"/>
<line x1="485.85" y1="421.9" x2="490.85" y2="421.9" class="ec"/>
<rect x="484.65" y="428.9" width="7.4" height="27.5" fill="#086A4B"/>
<line x1="488.35" y1="456.4" x2="488.35" y2="459.6" class="tk"/>
<path d="M486.05 467.5H490.65M488.35 465.2V469.8" class="sg"/>
<path d="M486.35 479.9H490.35" class="sg"/>
<path d="M486.05 492H490.65M488.35 489.7V494.3" class="sg"/>
<path d="M486.05 504.7H490.65M488.35 502.4V507" class="sg"/>
<line x1="502.7" y1="366.4" x2="502.7" y2="384.6" class="eb"/>
<line x1="500.2" y1="366.4" x2="505.2" y2="366.4" class="ec"/>
<rect x="499" y="384.1" width="7.4" height="72.3" fill="#ABBF84"/>
<line x1="502.7" y1="456.4" x2="502.7" y2="459.6" class="tk"/>
<circle cx="499.4" cy="361.7" r="1.15" fill="#333"/>
<circle cx="502.7" cy="361.7" r="1.15" fill="#333"/>
<circle cx="506" cy="361.7" r="1.15" fill="#333"/>
<path d="M500.4 467.5H505M502.7 465.2V469.8" class="sg"/>
<path d="M500.4 479.9H505M502.7 477.6V482.2" class="sg"/>
<path d="M500.4 492H505M502.7 489.7V494.3" class="sg"/>
<path d="M500.7 504.7H504.7" class="sg"/>
<path d="M459.4 403.3V303.6H501.7V310" class="br"/>
<text x="462.53" y="300.5" class="pt" font-size="7.7" textLength="35.27" lengthAdjust="spacingAndGlyphs"><tspan font-style="italic">P</tspan> <tspan font-size="6.4">&lt;</tspan> .0001</text>
<path d="M473.3 394.3V323.7H501.7V329.4" class="br"/>
<text x="469.53" y="320.8" class="pt" font-size="7.7" textLength="35.27" lengthAdjust="spacingAndGlyphs"><tspan font-style="italic">P</tspan> <tspan font-size="6.4">&lt;</tspan> .0001</text>
<path d="M487.5 383V342.5H501.7V348.5" class="br"/>
<text x="476.23" y="340.3" class="pt" font-size="7.7" textLength="34.96" lengthAdjust="spacingAndGlyphs"><tspan font-style="italic">P</tspan> <tspan font-size="6.4">&lt;</tspan> .0001</text>
<line x1="62.6" y1="290.8" x2="62.6" y2="456.9" class="ax"/>
<line x1="59.9" y1="456.4" x2="512.6" y2="456.4" class="bl"/>
<text x="47.93" y="469.75" class="rl" font-size="8.6" textLength="14.04" lengthAdjust="spacingAndGlyphs">THs</text>
<text x="50.3" y="482.15" class="rl" font-size="8.6" textLength="12.57" lengthAdjust="spacingAndGlyphs">Bex</text>
<text x="53.69" y="494.25" class="rl" font-size="8.6" textLength="9.67" lengthAdjust="spacingAndGlyphs">Cil</text>
<text x="45.69" y="506.95" class="rl" font-size="8.6" textLength="17.42" lengthAdjust="spacingAndGlyphs">Ruxo</text>
<text x="7.1" y="17.0" class="pl">A</text>
<text x="7.3" y="273.9" class="pl">B</text>
<text transform="translate(36.4,152.65) rotate(-90)" class="yl" font-size="9.5" textLength="82.08" lengthAdjust="spacingAndGlyphs">% Cell viability (to vehicle)</text>
<text transform="translate(27.1,420.04) rotate(-90)" class="yl" font-size="9.5" textLength="92.15" lengthAdjust="spacingAndGlyphs">Caspase 7/3 activity to vehicle</text>
<text transform="translate(39.2,415.23) rotate(-90)" class="yl" font-size="9.5" textLength="82.85" lengthAdjust="spacingAndGlyphs">(normalized by viable cells)</text>
<rect x="0" y="0" width="520" height="1" fill="#444"/>
<rect x="0" y="0" width="1" height="516" fill="#444"/>
<rect x="518.8" y="0" width="1.2" height="516" fill="#444"/>
<rect x="0" y="514.6" width="520" height="1.4" fill="#444"/>
</svg></div></body></html>
